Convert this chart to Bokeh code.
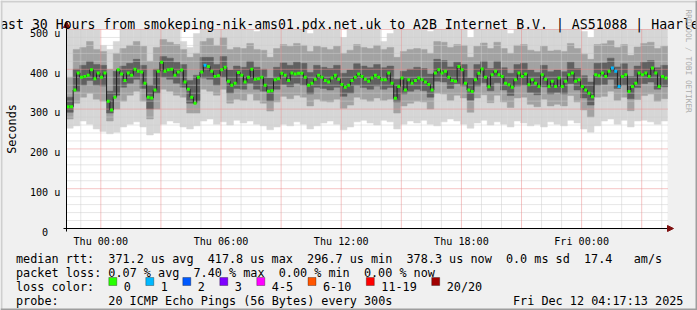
import re
import math
import pandas as pd
from bokeh.plotting import figure
from bokeh.models import Label, Range1d, Arrow, NormalHead, BoxAnnotation
from bokeh.embed import file_html
from bokeh.resources import INLINE

# ---------------- data ----------------
TITLE = "Last 30 Hours from smokeping-nik-ams01.pdx.net.uk to A2B Internet B.V. | AS51088 | Haarlem"
START = pd.Timestamp("2025-12-10 22:17:13")
END = pd.Timestamp("2025-12-12 04:17:13")
MEDIAN_STEP_MIN = 10
SMOKE_STEP_MIN = 20

# median rtt (microseconds), one value per 10 minutes
median_us = [
    306, 306, 348, 391, 380, 382, 385, 399, 376, 391,
    380, 391, 320, 298, 330, 399, 388, 372, 391, 385,
    400, 395, 393, 365, 330, 328, 348, 395, 418, 395,
    399, 400, 385, 393, 398, 368, 350, 330, 315, 380,
    393, 410, 407, 395, 382, 384, 399, 405, 370, 360,
    365, 392, 385, 368, 380, 400, 375, 376, 380, 360,
    345, 346, 374, 376, 390, 385, 372, 391, 388, 390,
    390, 380, 360, 365, 375, 385, 380, 372, 368, 378,
    385, 375, 362, 355, 360, 372, 380, 388, 382, 375,
    370, 378, 385, 380, 374, 374, 391, 365, 327, 357,
    378, 348, 374, 365, 372, 378, 374, 368, 362, 348,
    391, 399, 391, 395, 380, 372, 370, 407, 399, 365,
    348, 344, 374, 390, 401, 380, 356, 386, 395, 386,
    382, 365, 361, 355, 374, 391, 382, 388, 361, 374,
    365, 357, 386, 375, 357, 370, 357, 378, 357, 370,
    386, 391, 370, 374, 357, 348, 340, 331, 386, 384,
    391, 382, 395, 403, 395, 357, 382, 386, 344, 357,
    365, 391, 386, 391, 382, 403, 391, 357, 382, 378,
]
# lost pings (out of 20) at a few median steps; all others 0
loss_steps = [41, 163, 164, 165]
loss_counts = [1, 1, 1, 1]

# smoke: ping distribution per 20 minutes (microseconds)
smoke_lo = [252, 258, 270, 262, 250, 244, 238, 242, 255, 262,
            268, 255, 235, 240, 262, 270, 265, 255, 250, 258,
            270, 275, 262, 268, 260, 272, 265, 270, 262, 258,
            248, 255, 262, 258, 268, 262, 250, 258, 265, 270,
            262, 248, 255, 268, 272, 265, 260, 272, 268, 250,
            262, 270, 265, 272, 262, 258, 268, 275, 270, 262,
            252, 265, 272, 260, 268, 262, 255, 270, 265, 258,
            262, 255, 268, 262, 258, 272, 265, 250, 242, 258,
            270, 275, 262, 272, 255, 270, 272, 268, 262, 270]
smoke_p10 = [275, 315, 330, 340, 325, 320, 270, 300, 320, 335,
             345, 320, 275, 300, 350, 345, 335, 330, 290, 290,
             350, 345, 335, 350, 315, 325, 322, 338, 322, 315,
             295, 318, 332, 326, 335, 330, 308, 325, 320, 318,
             325, 302, 310, 330, 325, 320, 328, 322, 325, 290,
             308, 315, 320, 318, 300, 340, 338, 322, 335, 328,
             292, 328, 336, 316, 335, 318, 304, 328, 330, 312,
             306, 325, 308, 312, 308, 334, 318, 298, 280, 330,
             332, 345, 322, 330, 296, 324, 334, 338, 320, 326]
smoke_p25 = [292, 345, 360, 372, 360, 358, 290, 335, 355, 365,
             375, 352, 300, 340, 380, 375, 365, 355, 315, 320,
             378, 375, 360, 380, 340, 352, 350, 365, 350, 345,
             320, 350, 362, 356, 365, 360, 338, 355, 352, 348,
             355, 332, 340, 360, 354, 350, 358, 350, 354, 318,
             338, 345, 350, 346, 330, 370, 368, 352, 364, 358,
             322, 358, 366, 346, 366, 348, 334, 358, 360, 342,
             336, 356, 338, 342, 338, 364, 348, 328, 310, 360,
             362, 375, 352, 360, 326, 354, 364, 368, 350, 356]
smoke_p75 = [330, 400, 410, 420, 412, 410, 345, 395, 408, 415,
             425, 410, 360, 400, 432, 428, 418, 412, 372, 385,
             430, 430, 412, 432, 398, 408, 405, 420, 405, 400,
             378, 405, 416, 410, 418, 415, 392, 410, 405, 402,
             410, 390, 398, 414, 408, 404, 412, 404, 408, 375,
             395, 400, 405, 402, 388, 425, 422, 406, 418, 412,
             378, 412, 420, 402, 420, 404, 390, 412, 415, 398,
             392, 410, 394, 398, 394, 418, 402, 384, 368, 415,
             416, 428, 406, 414, 382, 408, 418, 422, 404, 410]
smoke_p90 = [380, 450, 455, 470, 450, 445, 400, 440, 452, 460,
             470, 458, 420, 455, 475, 468, 462, 450, 430, 440,
             470, 478, 460, 480, 450, 455, 452, 465, 450, 448,
             430, 452, 462, 458, 465, 460, 445, 458, 455, 450,
             458, 440, 448, 462, 455, 452, 460, 450, 455, 430,
             445, 450, 452, 450, 440, 470, 468, 455, 462, 460,
             430, 458, 466, 452, 468, 452, 440, 460, 462, 448,
             445, 458, 446, 448, 445, 465, 452, 438, 425, 462,
             464, 472, 455, 462, 435, 456, 465, 468, 452, 458]
smoke_hi = [520, 540, 530, 525, 505, 460, 450, 470, 510, 530,
            540, 520, 500, 530, 545, 520, 515, 470, 455, 490,
            530, 540, 520, 545, 505, 510, 525, 530, 495, 510,
            500, 520, 535, 525, 540, 510, 490, 520, 530, 505,
            525, 480, 510, 535, 520, 500, 530, 470, 490, 505,
            515, 525, 530, 510, 495, 540, 530, 515, 525, 500,
            480, 520, 540, 525, 535, 510, 490, 525, 530, 505,
            500, 520, 515, 505, 510, 535, 520, 495, 480, 530,
            540, 545, 520, 530, 500, 520, 535, 540, 515, 525]

Y_TICKS = [0, 100, 200, 300, 400, 500]
Y_LABELS = ["0", "100 u", "200 u", "300 u", "400 u", "500 u"]
Y_MINOR_STEP = 20
Y_MAX = 500

LOSS_NAMES = ["0", "1", "2", "3", "4-5", "6-10", "11-19", "20/20"]
LOSS_COLORS = ["#26ff00", "#00b8ff", "#0059ff", "#7e00ff", "#ff00ff", "#ff5500", "#ff0000", "#a10000"]
LOSS_UPPER = [0, 1, 2, 3, 5, 10, 19, 20]

LINE1 = "median rtt:  371.2 us avg  417.8 us max  296.7 us min  378.3 us now  0.0 ms sd  17.4   am/s"
LINE2 = "packet loss: 0.07 % avg  7.40 % max  0.00 % min  0.00 % now"
LINE3 = "loss color:"
LINE4 = "probe:       20 ICMP Echo Pings (56 Bytes) every 300s"
STAMP = "Fri Dec 12 04:17:13 2025"
WATERMARK = "RRDTOOL / TOBI OETIKER"
Y_TITLE = "Seconds"

# ---------------- layout / style ----------------
W, H = 697, 310
FL, FR, FT, FB = 66, 667, 29, 228          # plot area in canvas pixels
MONO = "DejaVu Sans Mono"
FS = "11.8px"       # legend font
FS_AX = "10.1px"    # axis label font
CW = 7.1            # legend char advance
CW_AX = 6.08        # axis char advance
X0 = 15.5
BACK = "#f0f0f0"
ARROW_C = "#7f1010"
GRID_C = "#cdcdcd"
MGRID_C = "#ea8c8c"
HOUR = 3600 * 1000

start_ms = float(START.value // 10**6)
end_ms = float(END.value // 10**6)
TPX = (end_ms - start_ms) / (FR - FL)      # ms per pixel
VPX = Y_MAX / (FB - FT)                    # us per pixel

p = figure(width=W, height=H, output_backend="svg", toolbar_location=None,
           x_range=Range1d(start_ms - FL * TPX, end_ms + (W - FR) * TPX),
           y_range=Range1d(-(H - FB) * VPX, Y_MAX + FT * VPX),
           x_axis_location=None, y_axis_location=None, min_border=0)
p.background_fill_color = BACK
p.border_fill_color = BACK
p.outline_line_color = None
p.xgrid.visible = False
p.ygrid.visible = False

# canvas of the graph
p.quad(left=[start_ms], right=[end_ms], bottom=[Y_TICKS[0]], top=[Y_MAX],
       fill_color="white", line_color=None)

# smoke
sm_left = [start_ms + SMOKE_STEP_MIN * 60000 * i for i in range(len(smoke_lo))]
sm_right = [t + SMOKE_STEP_MIN * 60000 for t in sm_left]
clip_hi = [min(v, Y_MAX) for v in smoke_hi]
clip_p90 = [min(v, Y_MAX) for v in smoke_p90]
for lo, hi, col in [(smoke_lo, clip_hi, "#d6d6d6"),
                    (smoke_p10, clip_p90, "#a2a2a2"),
                    (smoke_p25, smoke_p75, "#606060")]:
    p.quad(left=sm_left, right=sm_right, bottom=lo, top=hi,
           fill_color=col, line_color=col, line_width=0.5)

# grid (over the smoke)
hours = list(range(int(math.ceil(start_ms / HOUR)) * HOUR, int(end_ms) + 1, HOUR))
minor_x = [t for t in hours if t % (3 * HOUR) != 0]
major_x = [t for t in hours if t % (3 * HOUR) == 0]
minor_y = [v for v in range(0, Y_MAX + 1, Y_MINOR_STEP) if v not in Y_TICKS]
p.segment(x0=minor_x, x1=minor_x, y0=[0] * len(minor_x), y1=[Y_MAX] * len(minor_x),
          line_color=GRID_C, line_dash="1 1", line_width=1)
p.segment(x0=[start_ms] * len(minor_y), x1=[end_ms] * len(minor_y), y0=minor_y, y1=minor_y,
          line_color=GRID_C, line_dash="1 1", line_width=1)
p.segment(x0=major_x, x1=major_x, y0=[0] * len(major_x), y1=[Y_MAX] * len(major_x),
          line_color=MGRID_C, line_dash="1 1", line_width=1)
p.segment(x0=[start_ms] * len(Y_TICKS), x1=[end_ms] * len(Y_TICKS), y0=Y_TICKS, y1=Y_TICKS,
          line_color=MGRID_C, line_dash="1 1", line_width=1)

# median
med_t = [start_ms + MEDIAN_STEP_MIN * 60000 * (i + 0.5) for i in range(len(median_us))]
loss = [0] * len(median_us)
for s, c in zip(loss_steps, loss_counts):
    loss[s] = c
def loss_color(n):
    for up, col in zip(LOSS_UPPER, LOSS_COLORS):
        if n <= up:
            return col
    return LOSS_COLORS[-1]
pt_colors = [loss_color(n) for n in loss]
p.step(x=med_t, y=median_us, mode="center", line_color="#1e1e1e", line_width=1)
p.scatter(x=med_t, y=median_us, marker="square", size=3, fill_color=pt_colors, line_color=None)

# axes lines
p.segment(x0=[start_ms - 3 * TPX], x1=[end_ms + 1 * TPX], y0=[0], y1=[0], line_color="black", line_width=1)
p.segment(x0=[start_ms], x1=[start_ms], y0=[-3 * VPX], y1=[Y_MAX + 1 * VPX], line_color="black", line_width=1)
p.add_layout(Arrow(end=NormalHead(size=6, fill_color=ARROW_C, line_color=ARROW_C),
                   x_start=FR - 2, y_start=H - FB, x_end=FR + 6, y_end=H - FB,
                   start_units="screen", end_units="screen", line_alpha=0))
p.add_layout(Arrow(end=NormalHead(size=6, fill_color=ARROW_C, line_color=ARROW_C),
                   x_start=FL, y_start=H - FT, x_end=FL, y_end=H - 21,
                   start_units="screen", end_units="screen", line_alpha=0))

# text helpers (canvas pixel positions, y from top)
def text_at(cx, cy, txt, size=FS, color="black", align="left", baseline="alphabetic", angle=0.0):
    p.add_layout(Label(x=cx, y=H - cy, x_units="screen", y_units="screen", text=txt,
                       text_font=MONO, text_font_size=size, text_color=color,
                       text_align=align, text_baseline=baseline, angle=angle))

def box_at(x1, y1, x2, y2, fill, line=None):
    p.add_layout(BoxAnnotation(left=x1, right=x2, top=H - y1, bottom=H - y2,
                               left_units="screen", right_units="screen",
                               top_units="screen", bottom_units="screen",
                               fill_color=fill, fill_alpha=1.0,
                               line_color=line, line_width=1, level="overlay"))

def text_line(line, cy):
    for m in re.finditer(r"\S+(?: \S+)*", line):
        text_at(X0 + m.start() * CW, cy, m.group())

# tick labels, placed through the data scales
for t in hours:
    if t % (6 * HOUR) == 0:
        lab = pd.Timestamp(t, unit="ms").strftime("%a %H:%M")
        p.add_layout(Label(x=t, y=-12.7 * VPX, text=lab, text_font=MONO, text_font_size=FS_AX,
                           text_align="center", text_baseline="alphabetic", text_color="black"))
for v, lab in zip(Y_TICKS, Y_LABELS):
    pad = 0 if lab.endswith("u") else 2 * CW_AX
    p.add_layout(Label(x=start_ms - (6.2 + pad) * TPX, y=v - 3.7 * VPX, text=lab, text_font=MONO,
                       text_font_size=FS_AX, text_align="right", text_baseline="alphabetic",
                       text_color="black"))

# y title, title, watermark
text_at(11, (FT + FB) / 2, Y_TITLE, align="center", baseline="middle", angle=math.pi / 2)
text_at(349, 24, TITLE, size="13.2px", align="center")
text_at(688, 9, WATERMARK, size="7.8px", color="#acacac", baseline="middle", angle=-math.pi / 2)

# legend lines
text_line(LINE1, 258)
text_line(LINE2, 272)
text_line(LINE3, 286)
text_line(LINE4, 300)
text_at(X0 + 70 * CW, 300, STAMP)

sx = 108.3
for name, col in zip(LOSS_NAMES, LOSS_COLORS):
    box_at(sx, 277, sx + 8, 285, col, "black")
    text_at(sx + 15, 286, name)
    sx = sx + 15 + len(name) * CW + 14.9

# rrdtool-like bevel around the image
box_at(0, 0, W, 2, "#cfcfcf")
box_at(0, 0, 2, H, "#cfcfcf")
box_at(0, H - 2, W, H, "#9e9e9e")
box_at(W - 2, 0, W, H, "#9e9e9e")

open("out.html", "w").write(file_html(p, INLINE))
